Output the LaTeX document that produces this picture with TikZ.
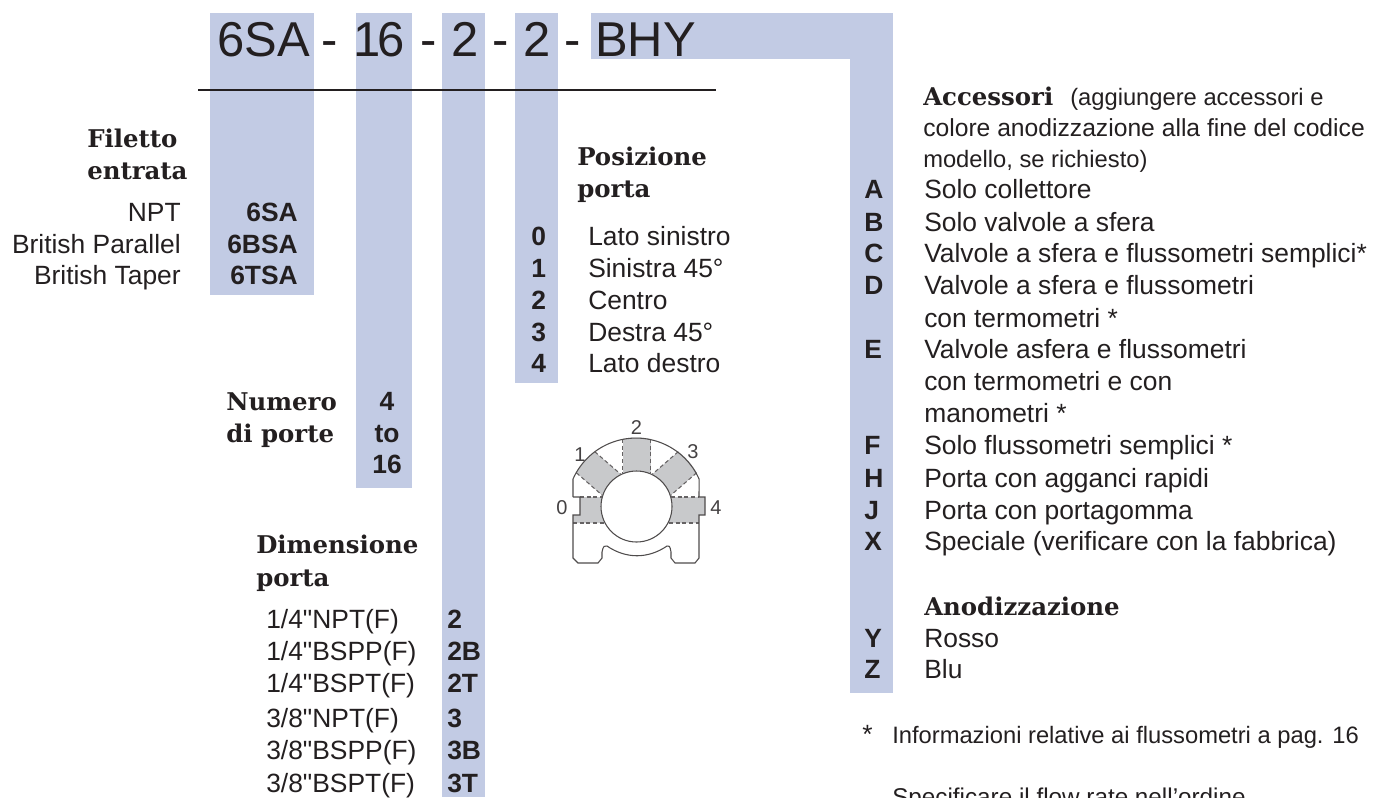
\documentclass[tikz,border=0pt]{standalone}
\usepackage{fontspec}
\setmainfont{Liberation Sans}[Ligatures=TeXOff]
\newfontfamily\headfont{DejaVu Serif}
\usepackage{xcolor}
\usetikzlibrary{positioning,backgrounds}
\definecolor{stripblue}{RGB}{194,203,228}
\definecolor{inkdark}{RGB}{35,31,32}
\definecolor{portgray}{RGB}{200,201,203}
\tikzset{
  codetext/.style={anchor=base west, inner sep=0pt, text=inkdark, font=\fontsize{36.7pt}{40pt}\selectfont},
  bodytext/.style={anchor=base west, inner sep=0pt, text=inkdark, font=\fontsize{19.8pt}{24pt}\selectfont},
  smalltext/.style={anchor=base west, inner sep=0pt, text=inkdark, font=\fontsize{17.8pt}{22pt}\selectfont},
  keytext/.style={anchor=base west, inner sep=0pt, text=inkdark, font=\fontsize{19.8pt}{24pt}\selectfont\bfseries},
  headtext/.style={anchor=base west, inner sep=0pt, text=inkdark, font=\fontsize{18.3pt}{22pt}\selectfont\headfont\bfseries},
  portnum/.style={inner sep=0pt, text=inkdark!85, font=\fontsize{15pt}{16pt}\selectfont},
  portline/.style={line width=0.8pt, inkdark!80},
  portdash/.style={line width=0.8pt, inkdark!70, dash pattern=on 3pt off 2pt},
}
\begin{document}
\begin{tikzpicture}[x=0.75pt, y=-0.75pt]
    \useasboundingbox (0,0) rectangle (1376,797);

    % Strips
    \fill[stripblue] (210,13) rectangle (314,295);
    \fill[stripblue] (356,13) rectangle (412,488);
    \fill[stripblue] (442,13) rectangle (485,797);
    \fill[stripblue] (515,13) rectangle (558,383);
    \fill[stripblue] (591,13) rectangle (893,59);
    \fill[stripblue] (850,13) rectangle (893,693);

    % Model code
    \node[codetext] (code1) at (217,56) {6SA};
    \node[codetext] (dash1) at (321,56) {-};
    \node[codetext] (code2) at (353,56) {1\kern-2pt 6};
    \node[codetext] (dash2) at (420,56) {-};
    \node[codetext] (code3) at (451,56) {2};
    \node[codetext] (dash3) at (492,56) {-};
    \node[codetext] (code4) at (523,56) {2};
    \node[codetext] (dash4) at (564,56) {-};
    \node[codetext] (code5) at (595,56) {BHY};
    \coordinate (ruleleft) at (198,90);
    \coordinate (ruleright) at (716,90);
    \draw[line width=1.8pt, inkdark] (ruleleft) -- (ruleright);

    % Inlet
    \node[headtext] (inlethead) at (87,147) {Filetto};
    \node[headtext] (inlethead2) at (87,179) {entrata};
    \foreach \name/\lab/\key/\ypos in {npt/NPT/6SA/221, bpar/British Parallel/6BSA/253, btap/British Taper/6TSA/284} {
      \node[bodytext, anchor=base east] (\name) at (181,\ypos) {\lab};
      \node[keytext, anchor=base east] (\name key) at (298,\ypos) {\key};
    }

    % Ports
    \node[headtext] (numhead) at (226,410) {Numero};
    \node[headtext] (numhead2) at (226,442) {di porte};
    \node[keytext, anchor=base] (num4) at (387,410) {4};
    \node[keytext, anchor=base] (numto) at (387,442) {to};
    \node[keytext, anchor=base] (num16) at (387,473) {16};

    % Size
    \node[headtext] (sizehead) at (256,553) {Dimensione};
    \node[headtext] (sizehead2) at (256,586) {porta};
    \foreach \name/\lab/\key/\ypos in {sa/{1/4"NPT(F)}/2/628, sb/{1/4"BSPP(F)}/2B/660, sc/{1/4"BSPT(F)}/2T/692, sd/{3/8"NPT(F)}/3/727, se/{3/8"BSPP(F)}/3B/759, sf/{3/8"BSPT(F)}/3T/792} {
      \node[bodytext] (\name) at (266,\ypos) {\lab};
      \node[keytext] (\name key) at (447,\ypos) {\key};
    }

    % Position
    \node[headtext] (poshead) at (577,165) {Posizione};
    \node[headtext] (poshead2) at (577,197) {porta};
    \foreach \name/\key/\lab/\ypos in {p0/0/Lato sinistro/245, p1/1/Sinistra 45°/277, p2/2/Centro/309, p3/3/Destra 45°/341, p4/4/Lato destro/372} {
      \node[keytext] (\name key) at (531,\ypos) {\key};
      \node[bodytext] (\name) at (588,\ypos) {\lab};
    }

    % Port sketch
    \begin{scope}
      \clip (636.5,506.5) circle (69);
      \foreach \ang in {-49,0,49} {
        \fill[portgray, rotate around={\ang:(636.5,506.5)}] (622.5,430) rectangle (650.5,480);
      }
    \end{scope}
    \fill[portgray] (580,497) -- (610,497) -- (610,523) -- (573,523) -- (573,515) -- (580,515) -- cycle;
    \fill[portgray] (705,497) -- (660,497) -- (660,523) -- (699,523) -- (699,515) -- (705,515) -- cycle;
    \fill[white] (636.5,506.5) circle (35.5);
    \draw[portline] (636.5,506.5) circle (35.5);
    \foreach \ang in {-49,0,49} {
      \draw[portdash, rotate around={\ang:(636.5,506.5)}] (622.5,439) -- (622.5,474);
      \draw[portdash, rotate around={\ang:(636.5,506.5)}] (650.5,439) -- (650.5,474);
    }
    \draw[portdash] (580,497) -- (602,497);
    \draw[portdash] (573,523) -- (604,523);
    \draw[portdash] (671,497) -- (699,497);
    \draw[portdash] (669,523) -- (699,523);
    \draw[portline] (573,497) -- (573,479) arc[start angle=204, end angle=336, radius=69]
      -- (699,497) -- (705,497) -- (705,515) -- (699,515) -- (699,558) -- (695,563) -- (675,563) -- (671,558) -- (671,552)
      .. controls (670,546) and (669,545) .. (667,546) .. controls (648,559) and (626,559) .. (607,546)
      .. controls (605,545) and (603,546) .. (602,552) -- (602,558) -- (598,563) -- (578,563) -- (573,558) -- (573,515) -- (580,515) -- (580,497) -- (573,497);
    \node[portnum] (lab2) at (636.5,428) {2};
    \node[portnum] (lab1) at (580,455) {1};
    \node[portnum] (lab3) at (693,452) {3};
    \node[portnum] (lab0) at (562,508) {0};
    \node[portnum] (lab4) at (716,508) {4};

    % Accessories
    \node[headtext] (acchead) at (923,105) {Accessori};
    \node[smalltext] (accnote) at (1070,105) {(aggiungere accessori e};
    \node[smalltext, font=\fontsize{18.5pt}{22pt}\selectfont] (accnote2) at (923,136) {colore anodizzazione alla fine del codice};
    \node[smalltext] (accnote3) at (923,167) {modello, se richiesto)};
    \foreach \name/\key/\ypos/\lab in {ka/A/198/Solo collettore, kb/B/231/Solo valvole a sfera, kc/C/262/Valvole a sfera e flussometri semplici*, kd/D/294/Valvole a sfera e flussometri, ke/E/358/Valvole asfera e flussometri, kf/F/454/Solo flussometri semplici *, kh/H/487/Porta con agganci rapidi, kj/J/519/Porta con portagomma, kx/X/550/Speciale (verificare con la fabbrica), ky/Y/647/Rosso, kz/Z/678/Blu} {
      \node[keytext] (\name) at (864,\ypos) {\key};
      \node[bodytext] (\name txt) at (924,\ypos) {\lab};
    }
    \node[bodytext] (kd2) at (924,327) {con termometri *};
    \node[bodytext] (ke2) at (924,390) {con termometri e con};
    \node[bodytext] (ke3) at (924,422) {manometri *};
    \node[headtext] (anohead) at (924,615) {Anodizzazione};
    \node[bodytext] (star) at (862,743) {*};
    \node[smalltext] (note1) at (892,743) {Informazioni relative ai flussometri a pag. 16};
    \node[smalltext, font=\fontsize{18.2pt}{22pt}\selectfont] (note2) at (892,805) {Specificare il flow rate nell’ordine};
\end{tikzpicture}
\end{document}
